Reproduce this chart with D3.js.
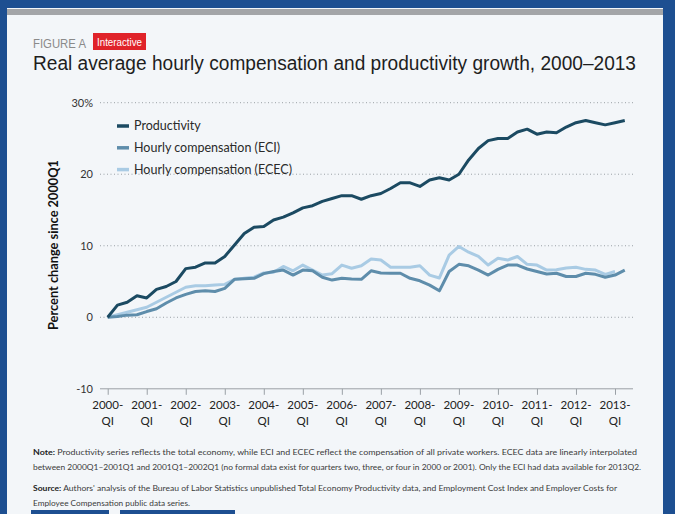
<!DOCTYPE html>
<html>
<head>
<meta charset="utf-8">
<script src="https://cdn.jsdelivr.net/npm/d3@7"></script>
<style>
  body { margin: 0; background: #fff; }
  svg { display: block; }
</style>
</head>
<body>
<div class="chart"></div>
<script>
// quarterly series, 2000Q1 .. 2013Q2, percent change since 2000Q1
var productivity = [0, 1.7, 2.1, 3.0, 2.7, 3.9, 4.3, 5.0, 6.8, 7.0,
  7.6, 7.6, 8.5, 10.1, 11.7, 12.6, 12.7, 13.6, 14.0, 14.6,
  15.3, 15.6, 16.2, 16.6, 17.0, 17.0, 16.5, 17.0, 17.3, 18.0,
  18.8, 18.8, 18.3, 19.2, 19.5, 19.2, 20.0, 22.0, 23.6, 24.7,
  25.0, 25.0, 25.9, 26.3, 25.6, 25.9, 25.8, 26.6, 27.2, 27.5,
  27.2, 26.9, 27.2, 27.5];

var eci = [0, 0.1, 0.3, 0.35, 0.8, 1.2, 2.0, 2.7, 3.2, 3.6,
  3.7, 3.6, 4.05, 5.3, 5.4, 5.45, 6.1, 6.4, 6.6, 5.9,
  6.6, 6.5, 5.6, 5.2, 5.45, 5.35, 5.3, 6.5, 6.2, 6.15,
  6.15, 5.45, 5.1, 4.5, 3.7, 6.4, 7.4, 7.2, 6.6, 5.9,
  6.7, 7.3, 7.3, 6.75, 6.4, 6.05, 6.15, 5.7, 5.7, 6.15,
  6.0, 5.6, 5.9, 6.6];

var ecec = [0, 0.35, 0.7, 1.05, 1.4, 2.1, 2.8, 3.5, 4.2, 4.4,
  4.4, 4.5, 4.6, 5.3, 5.45, 5.6, 6.2, 6.3, 7.1, 6.5,
  7.3, 6.6, 5.9, 6.1, 7.3, 6.85, 7.2, 8.15, 8.0, 7.0,
  7.0, 7.0, 7.2, 5.9, 5.5, 8.7, 9.9, 9.1, 8.5, 7.3,
  8.25, 8.0, 8.5, 7.4, 7.3, 6.6, 6.65, 6.9, 7.0, 6.7,
  6.6, 6.0, 6.4];

var seriesNames = ["Productivity", "Hourly compensation (ECI)", "Hourly compensation (ECEC)"];
var seriesColors = ["#1b4a62", "#5e8dab", "#a9cbe4"];
var yTicks = [-10, 0, 10, 20, 30];
var yearTicks = [2000, 2001, 2002, 2003, 2004, 2005, 2006, 2007, 2008, 2009, 2010, 2011, 2012, 2013];

var svgWidth = 675;
var svgHeight = 514;
var blue = "#1d4f91";

var svg = d3.select(".chart")
  .append("svg")
  .attr("width", svgWidth)
  .attr("height", svgHeight);

// frame
svg.append("rect").attr("width", svgWidth).attr("height", svgHeight).attr("fill", blue);
svg.append("rect").attr("x", 7).attr("y", 8).attr("width", 656).attr("height", svgHeight - 8).attr("fill", "#f3f6f9");
svg.append("rect").attr("x", 7).attr("y", 9).attr("width", 656).attr("height", 6).attr("fill", "#a3a5a8");
svg.append("rect").attr("x", 31).attr("y", 510).attr("width", 78).attr("height", 4).attr("fill", blue);
svg.append("rect").attr("x", 120).attr("y", 510).attr("width", 115).attr("height", 4).attr("fill", blue);

// header
svg.append("text")
  .attr("x", 33).attr("y", 48)
  .attr("font-family", "Liberation Sans Narrow, Liberation Sans, sans-serif")
  .attr("font-size", 13)
  .attr("fill", "#8a8a8a")
  .attr("textLength", 53).attr("lengthAdjust", "spacingAndGlyphs")
  .text("FIGURE A");

svg.append("rect").attr("x", 93).attr("y", 33).attr("width", 53).attr("height", 17).attr("fill", "#e0232a");
svg.append("text")
  .attr("x", 97).attr("y", 45.5)
  .attr("font-family", "Liberation Sans Narrow, Liberation Sans, sans-serif")
  .attr("font-size", 10)
  .attr("fill", "#fff")
  .attr("textLength", 45).attr("lengthAdjust", "spacingAndGlyphs")
  .text("Interactive");

svg.append("text")
  .attr("x", 33).attr("y", 70)
  .attr("font-family", "Liberation Sans, Arial, sans-serif")
  .attr("font-size", 19.5)
  .attr("fill", "#1e1e1e")
  .attr("textLength", 603).attr("lengthAdjust", "spacingAndGlyphs")
  .text("Real average hourly compensation and productivity growth, 2000\u20132013");

// scales
var x = d3.scaleLinear().domain([0, 52]).range([107.7, 615]);
var y = d3.scaleLinear().domain([-10, 30]).range([388.8, 102.7]);
var plotLeft = 100, plotRight = 633;

var chartFont = "Lato, Noto Sans, sans-serif";

// gridlines
svg.append("g")
  .selectAll("line")
  .data(yTicks.filter(d => d > -10))
  .enter()
  .append("line")
  .attr("x1", plotLeft).attr("x2", plotRight)
  .attr("y1", d => y(d)).attr("y2", d => y(d))
  .attr("stroke", "#9aa0a6")
  .attr("stroke-width", 1)
  .attr("stroke-dasharray", "1,2.5");

// y tick labels
svg.append("g")
  .selectAll("text")
  .data(yTicks)
  .enter()
  .append("text")
  .attr("x", 93)
  .attr("y", d => y(d))
  .attr("dy", "0.35em")
  .attr("text-anchor", "end")
  .attr("font-family", chartFont)
  .attr("font-size", 11)
  .attr("fill", "#333")
  .text(d => d === 30 ? "30%" : d);

// x axis
var bottomAxis = d3.axisBottom(x)
  .tickValues(yearTicks.map(d => (d - 2000) * 4))
  .tickSize(6)
  .tickFormat("");

var xAxis = svg.append("g")
  .attr("transform", `translate(0, ${y(-10)})`)
  .call(bottomAxis);
xAxis.select(".domain").remove();
xAxis.selectAll(".tick line").attr("stroke", "#9aa0a6");
xAxis.append("line")
  .attr("x1", plotLeft).attr("x2", plotRight)
  .attr("stroke", "#9aa0a6");

var xLabels = svg.append("g")
  .selectAll("text")
  .data(yearTicks)
  .enter()
  .append("text")
  .attr("text-anchor", "middle")
  .attr("font-family", chartFont)
  .attr("font-size", 11.5)
  .attr("fill", "#222")
  .attr("transform", d => `translate(${x((d - 2000) * 4)}, 409)`);
xLabels.append("tspan").attr("x", 0).attr("y", 0).text(d => d + "-");
xLabels.append("tspan").attr("x", 0).attr("y", 16).text("QI");

// y axis title
svg.append("text")
  .attr("transform", "translate(58, 245) rotate(-90)")
  .attr("text-anchor", "middle")
  .attr("font-family", chartFont)
  .attr("font-size", 12.5)
  .attr("font-weight", "bold")
  .attr("fill", "#111")
  .attr("textLength", 170).attr("lengthAdjust", "spacingAndGlyphs")
  .text("Percent change since 2000Q1");

// lines
var line = d3.line()
  .x((d, i) => x(i))
  .y(d => y(d));

var allSeries = [ecec, eci, productivity];
var allColors = [seriesColors[2], seriesColors[1], seriesColors[0]];

svg.append("g")
  .selectAll("path")
  .data(allSeries)
  .enter()
  .append("path")
  .attr("d", d => line(d))
  .attr("fill", "none")
  .attr("stroke", (d, i) => allColors[i])
  .attr("stroke-width", 3)
  .attr("stroke-linejoin", "round");

// legend
var legend = svg.append("g")
  .selectAll("g")
  .data(seriesNames)
  .enter()
  .append("g")
  .attr("transform", (d, i) => `translate(117, ${126 + i * 21.8})`);

legend.append("line")
  .attr("x1", 0).attr("x2", 12)
  .attr("stroke", (d, i) => seriesColors[i])
  .attr("stroke-width", 3.5);

legend.append("text")
  .attr("x", 17)
  .attr("dy", "0.35em")
  .attr("font-family", chartFont)
  .attr("font-size", 12.5)
  .attr("fill", "#2a2a2a")
  .text(d => d);

// notes
var noteFont = "Lato, Noto Sans, sans-serif";
var notes = [
  { y: 455, bold: "Note:", rest: " Productivity series reflects the total economy, while ECI and ECEC reflect the compensation of all private workers. ECEC data are linearly interpolated", len: 604 },
  { y: 470, bold: "", rest: "between 2000Q1\u20132001Q1 and 2001Q1\u20132002Q1 (no formal data exist for quarters two, three, or four in 2000 or 2001). Only the ECI had data available for 2013Q2.", len: 608 },
  { y: 491, bold: "Source:", rest: " Authors' analysis of the Bureau of Labor Statistics unpublished Total Economy Productivity data, and Employment Cost Index and Employer Costs for", len: 584 },
  { y: 506, bold: "", rest: "Employee Compensation public data series.", len: 157 }
];

var noteText = svg.append("g")
  .selectAll("text")
  .data(notes)
  .enter()
  .append("text")
  .attr("x", 33)
  .attr("y", d => d.y)
  .attr("font-family", noteFont)
  .attr("font-size", 8)
  .attr("fill", "#3a3a3a")
  .attr("textLength", d => d.len)
  .attr("lengthAdjust", "spacingAndGlyphs");

noteText.append("tspan").attr("font-weight", "bold").attr("fill", "#222").text(d => d.bold);
noteText.append("tspan").text(d => d.rest);
</script>
</body>
</html>
